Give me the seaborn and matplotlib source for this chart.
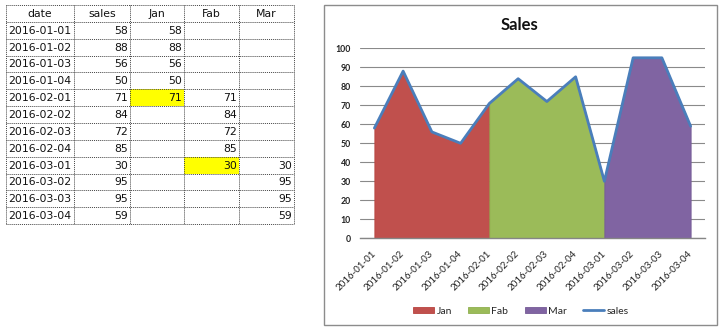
import numpy as np
import matplotlib
matplotlib.use("Agg")
import matplotlib.pyplot as plt
import seaborn as sns
import pandas as pd
from matplotlib.patches import Rectangle

# ---------------- data ----------------
dates = ["2016-01-01", "2016-01-02", "2016-01-03", "2016-01-04",
         "2016-02-01", "2016-02-02", "2016-02-03", "2016-02-04",
         "2016-03-01", "2016-03-02", "2016-03-03", "2016-03-04"]
sales = [58, 88, 56, 50, 71, 84, 72, 85, 30, 95, 95, 59]
jan = [58, 88, 56, 50, 71, None, None, None, None, None, None, None]
fab = [None, None, None, None, 71, 84, 72, 85, 30, None, None, None]
mar = [None, None, None, None, None, None, None, None, 30, 95, 95, 59]
headers = ["date", "sales", "Jan", "Fab", "Mar"]
highlight = [("2016-02-01", "Jan"), ("2016-03-01", "Fab")]
title = "Sales"
yticks = [0, 10, 20, 30, 40, 50, 60, 70, 80, 90, 100]

colors = {"Jan": "#C0504D", "Fab": "#9BBB59", "Mar": "#8064A2", "sales": "#4A7EBB"}
edges = {"Jan": "#B8433F", "Fab": "#8FAF4E", "Mar": "#755A96"}

sns.set_style("white")
plt.rcParams["font.family"] = ["Lato", "DejaVu Sans"]

W, H = 720, 331
fig = plt.figure(figsize=(W / 100, H / 100), dpi=100)

# ------------- overlay (pixel coordinates) for table & frame -------------
ov = fig.add_axes([0, 0, 1, 1])
ov.set_xlim(0, W)
ov.set_ylim(H, 0)
ov.axis("off")

col_edges = [6, 74, 130, 184, 239, 294]
top, row_h = 5, 16.85
nrows = len(dates) + 1
cols = {"date": dates, "sales": sales, "Jan": jan, "Fab": fab, "Mar": mar}

# highlighted cells
for d, c in highlight:
    r = dates.index(d) + 1
    ci = headers.index(c)
    ov.add_patch(Rectangle((col_edges[ci], top + r * row_h), col_edges[ci + 1] - col_edges[ci],
                           row_h, facecolor="#FFFF00", edgecolor="none", zorder=1))

# grid lines (dotted)
for i in range(nrows + 1):
    y = top + i * row_h
    ov.plot([col_edges[0], col_edges[-1]], [y, y], color="#444444", lw=0.7,
            ls=(0, (1, 1)), zorder=2)
for x in col_edges:
    ov.plot([x, x], [top, top + nrows * row_h], color="#444444", lw=0.7,
            ls=(0, (1, 1)), zorder=2)

tfont = dict(family=["DejaVu Sans"], fontsize=7.8, color="#111111", zorder=3)
for ci, h in enumerate(headers):
    xc = (col_edges[ci] + col_edges[ci + 1]) / 2
    ov.text(xc, top + row_h / 2 + 0.5, h, ha="center", va="center", **tfont)
for r in range(len(dates)):
    yc = top + (r + 1.5) * row_h + 0.5
    for ci, h in enumerate(headers):
        v = cols[h][r]
        if v is None:
            continue
        if h == "date":
            ov.text(col_edges[ci] + 2, yc, v, ha="left", va="center", **tfont)
        else:
            ov.text(col_edges[ci + 1] - 2, yc, str(v), ha="right", va="center", **tfont)

# chart frame
ov.add_patch(Rectangle((324, 5), 393, 320, facecolor="white", edgecolor="#8C8C8C",
                       lw=1.0, zorder=0))
ov.text(519, 25, title, ha="center", va="center", fontsize=12, fontweight="bold",
        color="#111111", zorder=3)

# ------------- chart -------------
ax = fig.add_axes([360 / W, 1 - 238.3 / H, 345 / W, 190 / H])
ax.set_facecolor("none")
x = np.arange(len(dates))
for name, vals in (("Jan", jan), ("Fab", fab), ("Mar", mar)):
    arr = np.array([np.nan if v is None else v for v in vals], dtype=float)
    ax.fill_between(x, 0, arr, where=~np.isnan(arr), facecolor=colors[name],
                    edgecolor=edges[name], lw=0.6, label=name, zorder=2,
                    interpolate=False)

df = pd.DataFrame({"x": x, "sales": sales})
sns.lineplot(data=df, x="x", y="sales", ax=ax, color=colors["sales"], lw=2,
             label="sales", zorder=3)

ax.set_xlim(-0.5, 11.5)
ax.set_ylim(0, 100)
ax.set_yticks(yticks)
ax.set_xticks(x)
ax.set_xticklabels(dates, rotation=45, ha="right", va="center", rotation_mode="anchor")
for t in ax.get_yticklabels():
    t.set_fontweight("bold")
ax.set_xlabel("")
ax.set_ylabel("")
for s in ("top", "right", "left"):
    ax.spines[s].set_visible(False)
ax.spines["bottom"].set_color("#868686")
ax.spines["bottom"].set_linewidth(1.0)
ax.spines["bottom"].set_zorder(4)
ax.yaxis.grid(True, color="#8A8A8A", lw=0.8, zorder=0)
ax.set_axisbelow(True)
ax.tick_params(axis="y", length=0, pad=6.5, labelsize=6.3, labelcolor="#222222")
ax.tick_params(axis="x", length=0, pad=10, labelsize=7, labelcolor="#222222")

leg = ax.legend(loc="center", bbox_to_anchor=(521 / W, 1 - 311 / H),
                bbox_transform=fig.transFigure, ncol=4, frameon=False,
                fontsize=7.5, handlelength=2.0, handleheight=0.6,
                handletextpad=0.2, columnspacing=1.6, borderaxespad=0)

fig.savefig("out.png", dpi=100)
